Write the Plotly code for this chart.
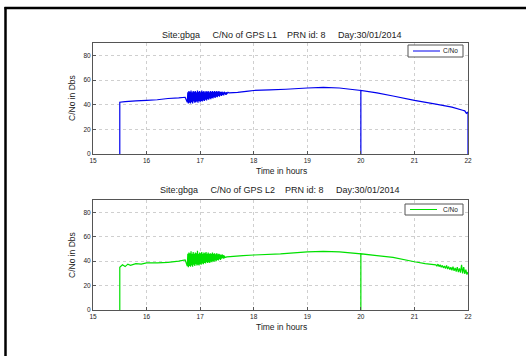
import plotly.graph_objects as go

# ---- GPS L1 carrier-to-noise (hours, dB) ----
l1_time = [15.50, 15.50, 15.60, 15.80, 16.00, 16.20, 16.40, 16.60, 16.72,
           16.76, 16.77, 16.78, 16.79, 16.80, 16.81, 16.82, 16.83, 16.84, 16.85,
           16.86, 16.87, 16.88, 16.89, 16.90, 16.91, 16.92, 16.93, 16.94, 16.95,
           16.96, 16.97, 16.98, 16.99, 17.00, 17.01, 17.02, 17.03, 17.04, 17.05,
           17.06, 17.07, 17.08, 17.09, 17.10, 17.11, 17.12, 17.13, 17.14, 17.15,
           17.16, 17.17, 17.18, 17.19, 17.20, 17.21, 17.22, 17.23, 17.24, 17.25,
           17.26, 17.27, 17.28, 17.29, 17.30, 17.31, 17.32, 17.33, 17.34, 17.35,
           17.36, 17.37, 17.38, 17.39, 17.40, 17.41, 17.42, 17.43, 17.44, 17.45,
           17.46, 17.47, 17.48, 17.49, 17.50, 17.52, 17.54,
           17.70, 17.90, 18.00, 18.30, 18.60, 19.00, 19.30, 19.60, 19.80,
           20.00, 20.00, 20.00, 20.30, 20.60, 21.00, 21.40, 21.70, 21.90,
           21.94, 21.97, 22.00, 22.00]
l1_cno = [0, 42, 42.5, 43, 43.5, 44, 45, 45.5, 46,
          42, 50, 41, 51, 41.5, 50.5, 41, 51.5, 42, 50,
          41, 51, 42.5, 50.5, 41.5, 51, 42, 50, 42.5, 51.5,
          41.5, 50.5, 43, 51, 42, 50, 43, 51.5, 42.5, 50.5,
          43.5, 51, 43, 50, 44, 51, 43.5, 50.5, 44.5, 51,
          44, 50, 45, 51, 44.5, 50.5, 45.5, 51, 45, 50.5,
          46, 51, 45.5, 50.5, 46.5, 51, 46, 50.5, 47, 51,
          46.5, 50.5, 47.5, 50.5, 47, 50.5, 48, 50, 47.5, 50.5,
          48.5, 50, 48, 50, 49, 50, 49.5,
          50, 51, 51.5, 52, 52.5, 53.5, 54, 53.5, 52.5,
          51.5, 0, 51.5, 49.5, 47, 43.5, 40.5, 38, 35.5,
          35, 33, 34, 0]

# ---- GPS L2 carrier-to-noise (hours, dB) ----
l2_time = [15.50, 15.50, 15.55, 15.60, 15.65, 15.70, 15.80, 15.90, 16.00,
           16.20, 16.40, 16.60, 16.72,
           16.76, 16.77, 16.78, 16.79, 16.80, 16.81, 16.82, 16.83, 16.84, 16.85,
           16.86, 16.87, 16.88, 16.89, 16.90, 16.91, 16.92, 16.93, 16.94, 16.95,
           16.96, 16.97, 16.98, 16.99, 17.00, 17.01, 17.02, 17.03, 17.04, 17.05,
           17.06, 17.07, 17.08, 17.09, 17.10, 17.11, 17.12, 17.13, 17.14, 17.15,
           17.16, 17.17, 17.18, 17.19, 17.20, 17.21, 17.22, 17.23, 17.24, 17.25,
           17.26, 17.27, 17.28, 17.29, 17.30, 17.31, 17.32, 17.33, 17.34, 17.35,
           17.36, 17.37, 17.38, 17.39, 17.40, 17.41, 17.42, 17.43, 17.44, 17.45,
           17.46,
           17.50, 17.80, 18.00, 18.50, 19.00, 19.30, 19.60, 20.00, 20.00, 20.00,
           20.30, 20.60, 21.00, 21.20, 21.40,
           21.42, 21.44, 21.46, 21.48, 21.50, 21.52, 21.54, 21.56, 21.58, 21.60,
           21.62, 21.64, 21.66, 21.68, 21.70, 21.72, 21.74, 21.76, 21.78, 21.80,
           21.82, 21.84, 21.86, 21.88, 21.90, 21.92, 21.94, 21.96, 21.98, 22.00]
l2_cno = [0, 35, 37, 35.5, 37.5, 36.5, 38, 37.5, 38.5,
          38.5, 39, 40, 41,
          36, 46, 35, 47, 36, 46.5, 35.5, 48, 36.5, 46,
          35.5, 47.5, 37, 46, 36, 47, 37.5, 46.5, 36.5, 48.5,
          37, 46, 36.5, 47, 37.5, 46.5, 37, 47.5, 38, 46,
          37.5, 47, 38.5, 46.5, 38, 47.5, 39, 46, 38.5, 47,
          39, 46, 38.5, 46.5, 39.5, 46, 39, 47, 40, 46,
          39.5, 46.5, 40.5, 45.5, 40, 46.5, 41, 45.5, 40.5, 46,
          41.5, 45.5, 41, 45, 42, 45.5, 42.5, 45, 42, 44.5,
          43,
          43.5, 44.5, 45, 46, 47.5, 48, 47.5, 46, 0, 46,
          44.5, 43, 39.5, 38, 37,
          36, 37.5, 35.5, 37, 35, 36.5, 34.5, 36, 34, 36.5,
          33.5, 35.5, 33, 35, 32.5, 35.5, 32, 34.5, 31.5, 35,
          31, 34, 30.5, 37, 30, 35, 29.5, 33, 29, 31]

x_ticks = [15, 16, 17, 18, 19, 20, 21, 22]
y_ticks = [0, 20, 40, 60, 80]

W, H = 526, 356
FONT = "Liberation Sans"
TXT = "#222222"
L1_COLOR = "#0000ee"
L2_COLOR = "#00e000"


def px_x(p):
    return p / W


def px_y(p):
    return 1 - p / H


fig = go.Figure()
fig.add_trace(go.Scatter(x=l1_time, y=l1_cno, mode="lines", name="C/No",
                         line=dict(color=L1_COLOR, width=1.2, simplify=False),
                         xaxis="x", yaxis="y"))
fig.add_trace(go.Scatter(x=l2_time, y=l2_cno, mode="lines", name="C/No",
                         line=dict(color=L2_COLOR, width=1.2, simplify=False),
                         xaxis="x2", yaxis="y2"))

xdom = [px_x(93), px_x(468)]
axis_common = dict(showline=True, mirror=True, linecolor="#555555", linewidth=1,
                   ticks="inside", ticklen=3, tickcolor="#555555",
                   showgrid=True, gridcolor="#cfcfcf", griddash="dot", gridwidth=1,
                   zeroline=False, automargin=False,
                   tickfont=dict(family=FONT, size=6.5, color=TXT))

fig.update_layout(
    width=W, height=H,
    margin=dict(l=0, r=0, t=0, b=0),
    paper_bgcolor="white", plot_bgcolor="white",
    showlegend=False,
    xaxis=dict(domain=xdom, range=[15, 22], tickvals=x_ticks, anchor="y", **axis_common),
    yaxis=dict(domain=[px_y(154), px_y(43)], range=[0, 90], tickvals=y_ticks,
               anchor="x", **axis_common),
    xaxis2=dict(domain=xdom, range=[15, 22], tickvals=x_ticks, anchor="y2", **axis_common),
    yaxis2=dict(domain=[px_y(310), px_y(200)], range=[0, 90], tickvals=y_ticks,
                anchor="x2", **axis_common),
)


def label(text, x, y, size, angle=0, xanchor="center"):
    fig.add_annotation(text=text, x=px_x(x), y=px_y(y), xref="paper", yref="paper",
                       xanchor=xanchor, yanchor="middle", textangle=angle,
                       showarrow=False, font=dict(family=FONT, size=size, color=TXT))


label("Site:gbga     C/No of GPS L1    PRN id: 8     Day:30/01/2014", 282, 35, 9)
label("Site:gbga     C/No of GPS L2    PRN id: 8     Day:30/01/2014", 280, 190, 9)
label("Time in hours", 281, 171, 8.5)
label("Time in hours", 281, 327, 8.5)
label("C/No in Dbs", 72, 98, 8.5, angle=-90)
label("C/No in Dbs", 72, 255, 8.5, angle=-90)

# legend boxes: frame, line sample and label for each panel
legends = [(408, 463, 45, 57, L1_COLOR), (405, 463, 204, 215, L2_COLOR)]
for x0, x1, y0, y1, col in legends:
    fig.add_shape(type="rect", xref="paper", yref="paper",
                  x0=px_x(x0), x1=px_x(x1), y0=px_y(y1), y1=px_y(y0),
                  line=dict(color="#555555", width=1), fillcolor="white")
    ym = (y0 + y1) / 2
    fig.add_shape(type="line", xref="paper", yref="paper",
                  x0=px_x(x0 + 5), x1=px_x(x0 + 32), y0=px_y(ym), y1=px_y(ym),
                  line=dict(color=col, width=1))
    label("C/No", x1 - 3, ym, 6.5, xanchor="right")

# outer frame of the figure window
fig.add_shape(type="line", xref="paper", yref="paper",
              x0=px_x(4.5), x1=1, y0=px_y(8), y1=px_y(8),
              line=dict(color="black", width=2.5))
fig.add_shape(type="line", xref="paper", yref="paper",
              x0=px_x(5.5), x1=px_x(5.5), y0=px_y(7), y1=0,
              line=dict(color="black", width=2.5))

fig.write_html("out.html")
